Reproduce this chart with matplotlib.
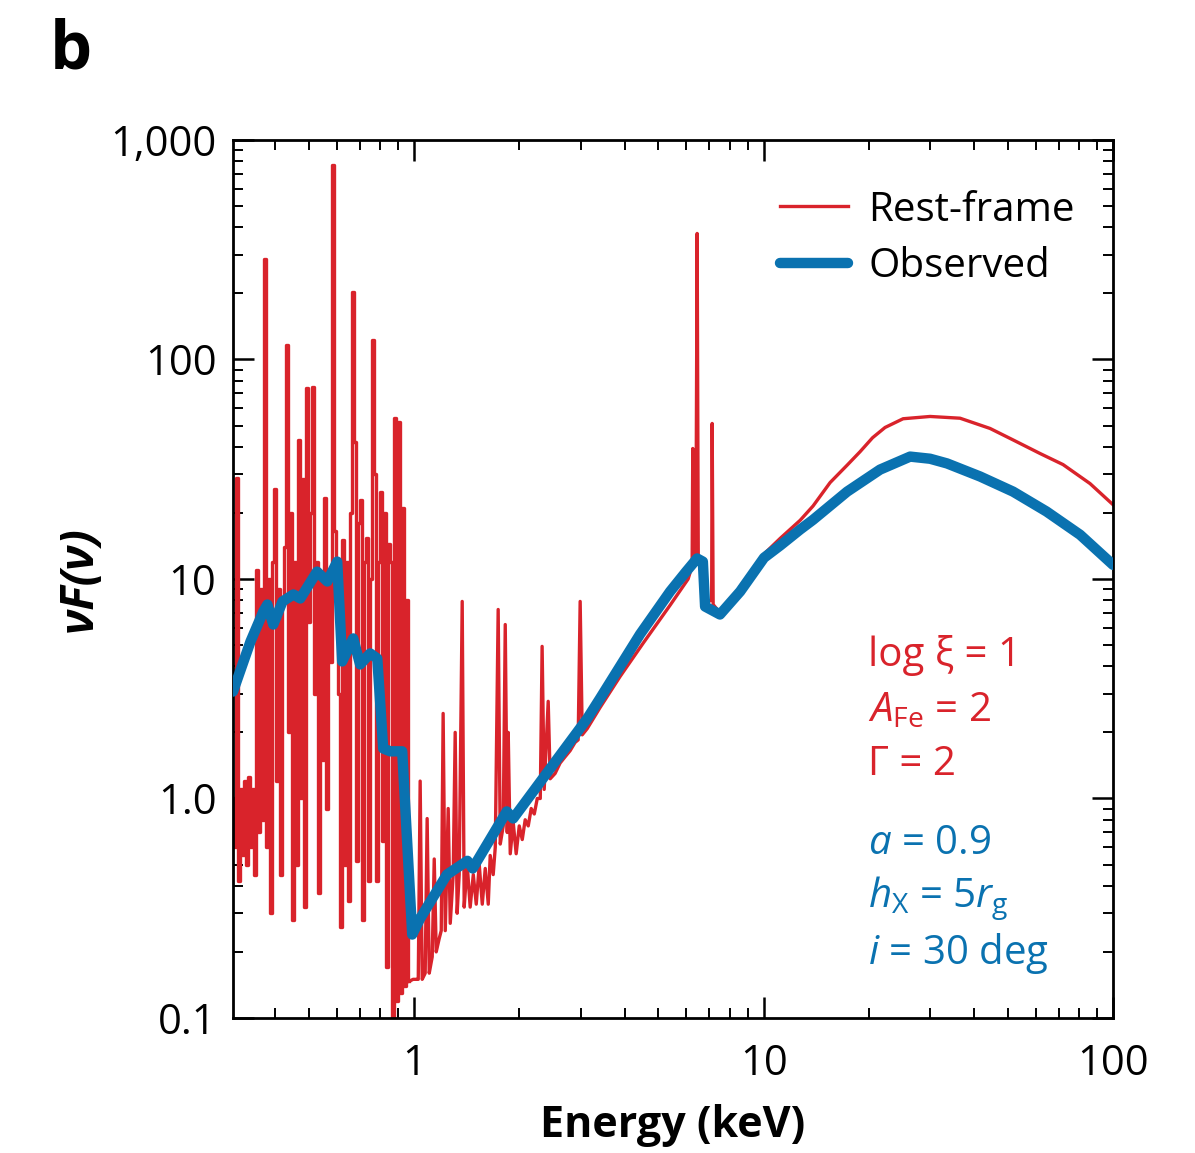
import numpy as np
import matplotlib.pyplot as plt
from matplotlib.ticker import NullFormatter

plt.rcParams['font.family'] = ['Open Sans', 'DejaVu Sans']
plt.rcParams['mathtext.fontset'] = 'custom'
plt.rcParams['mathtext.rm'] = 'Open Sans'
plt.rcParams['mathtext.it'] = 'Open Sans:italic'
plt.rcParams['mathtext.bf'] = 'Open Sans:bold'

red = '#d9232b'
blue = '#0a72b0'

# rest-frame spectrum, soft band line forest (0.3 - 1 keV): energy (keV), nuF(nu)
soft_energy = [0.3034, 0.3074, 0.3115, 0.3157, 0.3199, 0.3241, 0.3284, 0.3328, 0.3372, 0.3417,
               0.3462, 0.3508, 0.3555, 0.3602, 0.3650, 0.3698, 0.3747, 0.3797, 0.3847, 0.3898,
               0.3950, 0.4003, 0.4056, 0.4110, 0.4164, 0.4219, 0.4275, 0.4332, 0.4389, 0.4447,
               0.4506, 0.4566, 0.4627, 0.4688, 0.4750, 0.4813, 0.4877, 0.4942, 0.5007, 0.5073,
               0.5141, 0.5209, 0.5278, 0.5348, 0.5419, 0.5491, 0.5563, 0.5637, 0.5712, 0.5788,
               0.5865, 0.5942, 0.6021, 0.6101, 0.6182, 0.6264, 0.6347, 0.6431, 0.6517, 0.6603,
               0.6690, 0.6779, 0.6869, 0.6960, 0.7053, 0.7146, 0.7241, 0.7337, 0.7434, 0.7533,
               0.7633, 0.7734, 0.7836, 0.7940, 0.8045, 0.8152, 0.8260, 0.8370, 0.8481, 0.8593,
               0.8707, 0.8822, 0.8939, 0.9058, 0.9179, 0.9301, 0.9424, 0.9549, 0.9676]
soft_flux = [1.0, 0.6, 28.7, 0.42, 1.1, 0.55, 1.2, 0.5, 1.25, 0.6,
             1.1, 0.45, 11.0, 0.7, 9.0, 0.8, 286, 0.6, 10.0, 0.3,
             12.0, 25.8, 1.2, 9.0, 0.45, 8.0, 14.0, 117, 2.0, 20.0,
             0.28, 12.0, 0.5, 43.0, 1.0, 28.4, 0.32, 74.0, 6.4, 20.0,
             75.0, 3.0, 12.0, 0.37, 10.0, 1.5, 23.3, 0.9, 10.0, 4.2,
             773, 16.5, 12.0, 3.0, 0.26, 15.0, 0.5, 12.0, 0.34, 20.0,
             204, 42.0, 0.52, 18.0, 23.0, 0.28, 12.0, 15.3, 0.42, 10.0,
             123, 30.0, 0.42, 12.0, 25.0, 0.64, 20.0, 0.17, 14.4, 12.0,
             0.10, 54.0, 0.12, 52.0, 0.13, 21.0, 0.14, 8.0, 0.147]

# rest-frame, 1 - 3 keV
mid_energy = [0.993, 1.013, 1.027, 1.040, 1.054, 1.075, 1.089, 1.104, 1.126, 1.141,
              1.156, 1.179, 1.195, 1.210, 1.227, 1.251, 1.268, 1.293, 1.310, 1.327,
              1.345, 1.372, 1.390, 1.418, 1.446, 1.476, 1.505, 1.535, 1.566, 1.597,
              1.629, 1.650, 1.683, 1.706, 1.739, 1.763, 1.798, 1.822, 1.846, 1.858,
              1.883, 1.920, 1.958, 1.998, 2.038, 2.078, 2.120, 2.162, 2.206, 2.250,
              2.295, 2.323, 2.355, 2.418, 2.450, 2.530, 2.615, 2.704, 2.793, 2.886,
              2.946, 2.985, 3.026, 3.126]
mid_flux = [0.15, 0.15, 0.15, 1.2, 0.15, 0.16, 0.81, 0.16, 0.19, 0.53,
            0.20, 0.23, 0.25, 2.44, 0.25, 0.90, 0.27, 0.45, 2.0, 0.30,
            0.45, 7.9, 0.32, 0.50, 0.32, 0.45, 0.33, 0.50, 0.33, 0.48,
            0.33, 0.55, 0.45, 0.60, 7.26, 0.62, 0.75, 6.2, 0.70, 2.0,
            0.56, 0.78, 0.56, 0.75, 0.65, 0.80, 0.75, 0.90, 0.85, 1.0,
            1.0, 4.93, 1.1, 2.77, 1.23, 1.3, 1.45, 1.55, 1.65, 1.8,
            1.85, 7.9, 1.95, 2.08]

# rest-frame, Fe K region and Compton hump
hard_energy = [3.405, 3.885, 4.521, 5.401, 6.081, 6.243, 6.270, 6.300, 6.400, 6.453,
               6.500, 6.600, 6.800, 6.950, 7.100, 7.124, 7.171, 7.507, 7.864, 8.568,
               10.03, 11.15, 12.72, 13.85, 15.50, 17.34, 18.88, 20.5, 22.26, 25.07,
               29.95, 36.50, 44.47, 51.76, 61.81, 71.94, 85.95, 100.0]
hard_flux = [2.6, 3.6, 5.1, 7.6, 10.0, 11.5, 39.3, 12.5, 13.3, 375,
             13.0, 11.0, 8.5, 7.9, 8.0, 51.1, 7.65, 7.0, 7.34, 9.25,
             13.0, 15.3, 18.5, 21.5, 27.5, 33.0, 38.0, 44.0, 49.0, 53.7,
             55.0, 54.0, 48.5, 43.0, 37.3, 33.2, 27.2, 21.8]

# observed (blurred) spectrum
obs_energy = [0.303, 0.340, 0.370, 0.380, 0.395, 0.420, 0.451, 0.472, 0.527, 0.564,
              0.602, 0.622, 0.669, 0.700, 0.748, 0.784, 0.815, 0.854, 0.924, 0.987,
              1.040, 1.240, 1.420, 1.470, 1.840, 1.920, 2.500, 3.126, 3.400, 4.430,
              5.400, 6.000, 6.450, 6.700, 6.800, 7.500, 8.568, 10.03, 11.15, 12.72,
              13.85, 17.34, 21.54, 26.26, 29.95, 33.50, 41.64, 51.76, 64.5, 80.5,
              100.0]
obs_flux = [3.07, 5.19, 7.11, 7.65, 6.20, 7.90, 8.50, 8.15, 10.8, 9.74,
            12.0, 4.21, 5.36, 4.08, 4.58, 4.34, 1.69, 1.64, 1.64, 0.24,
            0.284, 0.45, 0.52, 0.48, 0.873, 0.811, 1.43, 2.31, 2.85, 5.6,
            8.77, 10.8, 12.4, 12.0, 7.49, 6.89, 8.77, 12.5, 14.2, 16.8,
            18.6, 25.0, 31.5, 36.1, 35.3, 33.6, 29.3, 25.0, 20.3, 15.9,
            11.6]

y_ticks = [0.1, 1, 10, 100, 1000]
y_labels = ['0.1', '1.0', '10', '100', '1,000']
x_ticks = [1, 10, 100]
x_labels = ['1', '10', '100']

# the line forest is drawn as a histogram, the rest as a line joined to its last bin
rest_energy = soft_energy[-1:] + mid_energy + hard_energy
rest_flux = soft_flux[-1:] + mid_flux + hard_flux

fig = plt.figure(figsize=(11.95, 11.53), dpi=100)
ax = fig.add_axes([0.195, 0.1171, 0.7364, 0.7615])

ax.plot(soft_energy, soft_flux, color=red, lw=2.4, drawstyle='steps-mid', zorder=2)
ax.plot(rest_energy, rest_flux, color=red, lw=2.4, label='Rest-frame', zorder=2)
ax.plot(obs_energy, obs_flux, color=blue, lw=7.5, label='Observed', zorder=3,
        solid_joinstyle='round', solid_capstyle='round')

ax.set_xscale('log')
ax.set_yscale('log')
ax.set_xlim(0.303, 100)
ax.set_ylim(0.1, 1000)

ax.set_xticks(x_ticks)
ax.set_xticklabels(x_labels)
ax.set_yticks(y_ticks)
ax.set_yticklabels(y_labels)
ax.xaxis.set_minor_formatter(NullFormatter())
ax.yaxis.set_minor_formatter(NullFormatter())

ax.tick_params(which='both', direction='in', top=True, right=True, labelsize=30)
ax.tick_params(which='major', length=15, width=1.8)
ax.tick_params(which='minor', length=7, width=1.4)
ax.tick_params(axis='x', pad=18)
ax.tick_params(axis='y', pad=12)
for sp in ax.spines.values():
    sp.set_linewidth(2)

ax.set_xlabel('Energy (keV)', fontsize=31, fontweight='bold', labelpad=14)
ax.set_ylabel('νF(ν)', fontsize=33, fontweight='bold', fontstyle='italic', labelpad=5)

ax.legend(loc='upper left', bbox_to_anchor=(0.621, 0.943), frameon=False, fontsize=29,
          handlelength=1.7, handletextpad=0.5, labelspacing=0.4, borderpad=0,
          borderaxespad=0)

tx = 0.722
ax.text(tx, 0.413, 'log ξ = 1', color=red, fontsize=29, transform=ax.transAxes, va='center')
ax.text(tx, 0.349, r'$A_{\mathrm{Fe}}$ = 2', color=red, fontsize=29, transform=ax.transAxes, va='center')
ax.text(tx, 0.288, 'Γ = 2', color=red, fontsize=29, transform=ax.transAxes, va='center')
ax.text(tx, 0.198, r'$a$ = 0.9', color=blue, fontsize=29, transform=ax.transAxes, va='center')
ax.text(tx, 0.136, r'$h_{\mathrm{X}}$ = 5$r_{\mathrm{g}}$', color=blue, fontsize=29,
        transform=ax.transAxes, va='center')
ax.text(tx, 0.073, r'$i$ = 30 deg', color=blue, fontsize=29, transform=ax.transAxes, va='center')

fig.text(0.042, 0.985, 'b', fontsize=48, fontweight='bold', va='top')

fig.savefig('out.png', dpi=100)
